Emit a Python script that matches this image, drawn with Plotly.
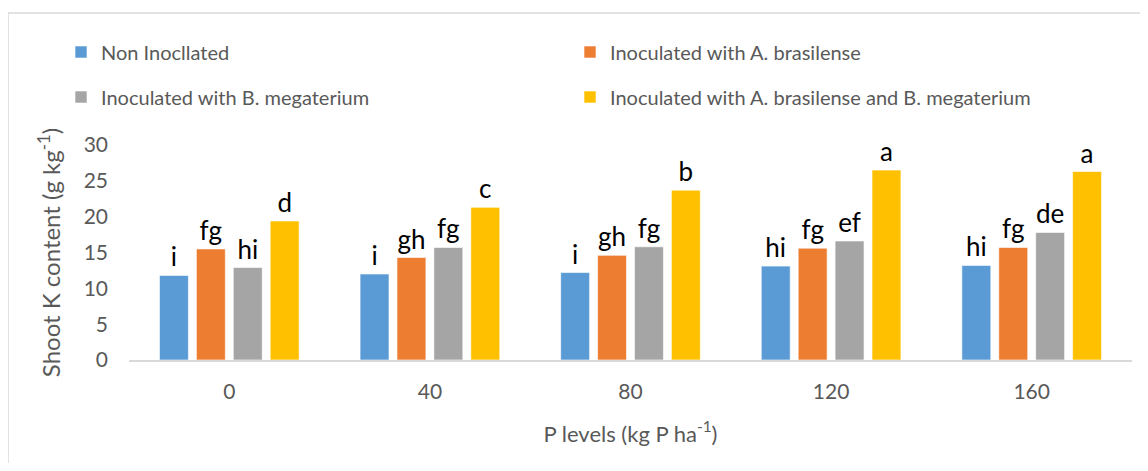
import plotly.graph_objects as go

categories = ["0", "40", "80", "120", "160"]
series_names = [
    "Non Inocllated",
    "Inoculated with A. brasilense",
    "Inoculated with B. megaterium",
    "Inoculated with A. brasilense and B. megaterium",
]
non_inoculated = [11.8, 12.0, 12.2, 13.1, 13.2]
a_brasilense = [15.5, 14.3, 14.6, 15.6, 15.7]
b_megaterium = [12.9, 15.7, 15.8, 16.6, 17.8]
a_and_b = [19.4, 21.3, 23.7, 26.5, 26.3]

labels_non = ["i", "i", "i", "hi", "hi"]
labels_a = ["fg", "gh", "gh", "fg", "fg"]
labels_b = ["hi", "fg", "fg", "ef", "de"]
labels_ab = ["d", "c", "b", "a", "a"]

y_ticks = [0, 5, 10, 15, 20, 25, 30]

colors = ["#5B9BD5", "#ED7D31", "#A5A5A5", "#FFC000"]
values = [non_inoculated, a_brasilense, b_megaterium, a_and_b]
labels = [labels_non, labels_a, labels_b, labels_ab]
legend_ids = ["legend", "legend", "legend2", "legend2"]

FONT = "Lato"
OFF = 8  # page body margin
W, H = 1148 - 2 * OFF, 471 - 2 * OFF
ML, MT = 129 - OFF, 145 - OFF
MR = W - (1132 - OFF)
MB = H - (360 - OFF)
PW, PH = W - ML - MR, H - MT - MB

fig = go.Figure()
for name, vals, lab, col, lg in zip(series_names, values, labels, colors, legend_ids):
    fig.add_trace(go.Bar(
        x=categories, y=vals, name=name, legend=lg,
        marker=dict(color=col, line=dict(color="white", width=0.6)),
        text=lab, textposition="outside", cliponaxis=False,
        textfont=dict(family=FONT, size=26, color="black"),
    ))

def px_x(px):
    return (px - OFF - ML) / PW

def px_y(py):
    return (H - MB - (py - OFF)) / PH

legend_common = dict(
    orientation="h", xanchor="left", yanchor="middle",
    font=dict(family=FONT, size=20, color="#595959"),
    entrywidth=464, entrywidthmode="pixels",
    bgcolor="rgba(0,0,0,0)", itemclick=False,
)

fig.update_layout(
    width=W, height=H,
    margin=dict(l=ML, r=MR, t=MT, b=MB, autoexpand=False),
    paper_bgcolor="white", plot_bgcolor="white",
    barmode="group", bargap=0.264, bargroupgap=0.216,
    font=dict(family=FONT, color="#595959"),
    showlegend=True,
    legend=dict(x=px_x(61), y=px_y(52), **legend_common),
    legend2=dict(x=px_x(61), y=px_y(97), **legend_common),
    xaxis=dict(
        type="category", showgrid=False, showline=True, linecolor="#D9D9D9",
        linewidth=2, ticks="", tickfont=dict(family=FONT, size=21, color="#595959"),
        ticklabelstandoff=12,
        title=dict(text="P levels (kg P ha<sup>-1</sup>)", standoff=24,
                   font=dict(family=FONT, size=22, color="#595959")),
    ),
    yaxis=dict(
        range=[0, 30], tickvals=y_ticks, showgrid=False, showline=False,
        zeroline=False, ticks="", ticklabelstandoff=20,
        tickfont=dict(family=FONT, size=21, color="#595959"),
        title=dict(text="Shoot K content (g kg<sup>-1</sup>)", standoff=16,
                   font=dict(family=FONT, size=24, color="#595959")),
    ),
    shapes=[dict(
        type="rect", xref="paper", yref="paper",
        x0=px_x(8), x1=px_x(1148 + 20), y0=px_y(471 + 20), y1=px_y(13),
        line=dict(color="#D9D9D9", width=1.5), fillcolor="rgba(0,0,0,0)",
        layer="below",
    )],
)

fig.write_html("out.html")
